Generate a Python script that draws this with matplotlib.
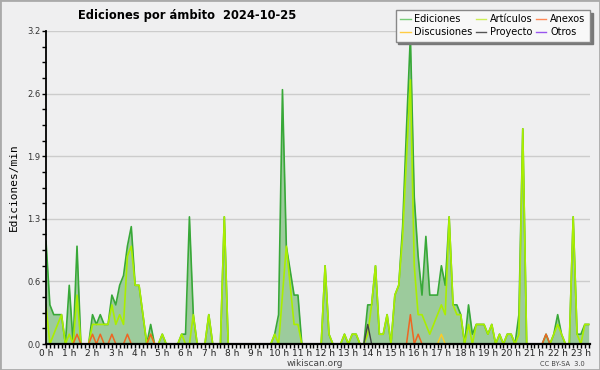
import numpy as np
import matplotlib
matplotlib.use("Agg")
import matplotlib.pyplot as plt
from matplotlib.ticker import MultipleLocator, FuncFormatter

# ediciones por minuto, una muestra cada 10 minutos desde las 0 h
ediciones = [
    1.05, 0.4, 0.3, 0.3, 0.3, 0, 0.6, 0, 1.0, 0, 0, 0,
    0.3, 0.2, 0.3, 0.2, 0.2, 0.5, 0.4, 0.6, 0.7, 1.0, 1.2, 0.6,
    0.6, 0.3, 0, 0.2, 0, 0, 0.1, 0, 0, 0, 0, 0.1,
    0.1, 1.3, 0.3, 0, 0, 0, 0.3, 0, 0, 0, 1.3, 0,
    0, 0, 0, 0, 0, 0, 0, 0, 0, 0, 0, 0.1,
    0.3, 2.6, 1.0, 0.75, 0.5, 0.5, 0, 0, 0, 0, 0, 0,
    0.8, 0.1, 0, 0, 0, 0.1, 0, 0.1, 0.1, 0, 0, 0.4,
    0.4, 0.8, 0.1, 0.1, 0.3, 0, 0.5, 0.6, 1.2, 2.2, 3.15, 1.5,
    0.9, 0.5, 1.1, 0.5, 0.5, 0.5, 0.8, 0.6, 1.3, 0.4, 0.4, 0.3,
    0, 0.4, 0.1, 0.2, 0.2, 0.2, 0.1, 0.2, 0, 0.1, 0, 0.1,
    0.1, 0, 0.3, 2.2, 0, 0, 0, 0, 0, 0.1, 0, 0.1,
    0.3, 0.1, 0, 0, 1.3, 0.1, 0.1, 0.2, 0.2,
]
articulos = [
    0.4, 0, 0.1, 0.2, 0.3, 0, 0.1, 0, 0.5, 0, 0, 0,
    0.2, 0.2, 0.2, 0.2, 0.2, 0.4, 0.2, 0.3, 0.2, 0.9, 1.0, 0.6,
    0.6, 0.3, 0, 0.1, 0, 0, 0.1, 0, 0, 0, 0, 0.1,
    0, 0, 0.3, 0, 0, 0, 0.3, 0, 0, 0, 1.3, 0,
    0, 0, 0, 0, 0, 0, 0, 0, 0, 0, 0, 0.1,
    0, 0.5, 1.0, 0.6, 0.2, 0.2, 0, 0, 0, 0, 0, 0,
    0.8, 0.1, 0, 0, 0, 0.1, 0, 0.1, 0.1, 0, 0, 0.1,
    0.4, 0.8, 0.1, 0.1, 0.3, 0, 0.5, 0.6, 1.1, 1.9, 2.7, 0.8,
    0.3, 0.3, 0.2, 0.1, 0.2, 0.3, 0.4, 0.3, 1.3, 0.4, 0.3, 0.3,
    0, 0.2, 0, 0.2, 0.2, 0.2, 0.1, 0.2, 0, 0.1, 0, 0.1,
    0.1, 0, 0.1, 2.2, 0, 0, 0, 0, 0, 0, 0, 0.1,
    0.2, 0.1, 0, 0, 1.3, 0.1, 0, 0.2, 0.2,
]
# series casi vacias: muestra -> valor
anexos_idx = [8, 12, 14, 17, 21, 27, 94, 96, 129]
anexos_val = [0.1, 0.1, 0.1, 0.1, 0.1, 0.1, 0.3, 0.1, 0.1]
discusiones_idx = [102]
discusiones_val = [0.1]
proyecto_idx = [83]
proyecto_val = [0.2]
otros_idx = []
otros_val = []

hours = list(range(24))
title = "Ediciones por ámbito  2024-10-25"

n = len(ediciones)
x = np.arange(n) / 6.0


def sparse(idx, val):
    arr = np.zeros(n)
    arr[idx] = val
    return arr


anexos = sparse(anexos_idx, anexos_val)
discusiones = sparse(discusiones_idx, discusiones_val)
proyecto = sparse(proyecto_idx, proyecto_val)
otros = sparse(otros_idx, otros_val)

bg = "#efeff0"
fig = plt.figure(figsize=(6, 3.7), dpi=100, facecolor=bg)
fig.patches.append(plt.Rectangle((0, 0), 1, 1, transform=fig.transFigure,
                                 fill=False, edgecolor="#aaaaaa", lw=2))
ax = fig.add_axes([46 / 600, 1 - 344 / 370, 544 / 600, 313 / 370])
ax.set_facecolor(bg)

ax.fill_between(x, ediciones, color="#9ccb9c", lw=0, zorder=1)
ax.plot(x, otros, color="#9955ee", lw=1, zorder=2)
ax.plot(x, proyecto, color="#444444", lw=1, zorder=2)
ax.plot(x, discusiones, color="#ffcc22", lw=1, zorder=2)
ax.plot(x, anexos, color="#ee6622", lw=1.1, zorder=2.1)
ax.plot(x, ediciones, color="#38a838", lw=1.2, zorder=1.8)
ax.plot(x, articulos, color="#aaee00", lw=1.2, zorder=1.9)

ax.set_xlim(0, 23.39)
ax.set_ylim(0, 3.2)
ax.yaxis.set_major_locator(MultipleLocator(0.64))
ax.yaxis.set_minor_locator(MultipleLocator(0.16))
ax.yaxis.set_major_formatter(FuncFormatter(lambda v, p: f"{v:.1f}"))
ax.set_xticks(hours)
ax.set_xticklabels([f"{h} h" for h in hours])
ax.xaxis.set_minor_locator(MultipleLocator(1 / 6))
ax.grid(axis="y", color="#cccccc", lw=1, zorder=0)
ax.set_axisbelow(True)

for s in ["top", "right"]:
    ax.spines[s].set_visible(False)
ax.spines["left"].set_linewidth(1.3)
ax.spines["bottom"].set_linewidth(1.6)
ax.tick_params(axis="y", which="both", length=3, width=1, labelsize=6,
               labelcolor="#333333", pad=1)
ax.tick_params(axis="x", which="both", length=3, width=1, labelsize=6.5,
               labelcolor="#222222", pad=0.5)

ax.set_ylabel("Ediciones/min", family="DejaVu Sans Mono", fontsize=8, labelpad=6)

fig.text(187 / 600, 1 - 15 / 370, title, fontsize=8.3, fontweight="bold",
         ha="center", va="center")
fig.text(315 / 600, 1 - 363 / 370, "wikiscan.org", fontsize=6.5, color="#444444",
         ha="center", va="center")
fig.text(562 / 600, 1 - 364 / 370, "CC BY-SA  3.0", fontsize=4.8, color="#444444",
         ha="center", va="center")

handles = [
    plt.Line2D([], [], color="#77cc77", lw=1),
    plt.Line2D([], [], color="#ffcc44", lw=1),
    plt.Line2D([], [], color="#ccee55", lw=1),
    plt.Line2D([], [], color="#555555", lw=1),
    plt.Line2D([], [], color="#ff8855", lw=1),
    plt.Line2D([], [], color="#9955ee", lw=1),
]
labels = ["Ediciones", "Discusiones", "Artículos", "Proyecto", "Anexos", "Otros"]
leg = fig.legend(handles, labels, loc="upper right", ncol=3,
                 bbox_to_anchor=(590 / 600, 1 - 10 / 370), fontsize=7,
                 frameon=True, fancybox=False, shadow={"color": "#777777", "alpha": 1},
                 handlelength=1.1, handletextpad=0.4, columnspacing=0.3,
                 labelspacing=0.3, borderpad=0.45, borderaxespad=0)
leg.get_frame().set_edgecolor("#888888")
leg.get_frame().set_facecolor("#f8f8f8")
leg.get_frame().set_linewidth(1)

fig.savefig("out.png", dpi=100, facecolor=bg)
